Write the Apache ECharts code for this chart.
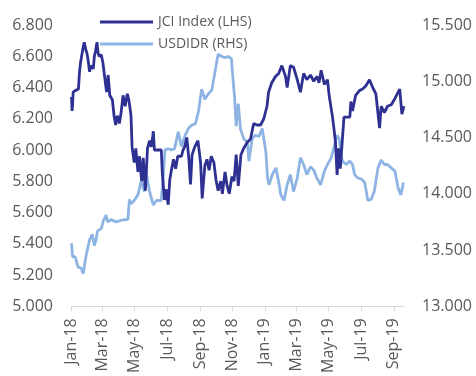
<!DOCTYPE html>
<html>
<head>
<meta charset="utf-8">
<script src="https://cdn.jsdelivr.net/npm/echarts@6/dist/echarts.min.js"></script>
<style>
  html, body { margin: 0; padding: 0; background: #fff; }
  #chart { width: 476px; height: 376px; }
</style>
</head>
<body>
<div id="chart"></div>
<script>
// JCI index, thousands (left axis)
const jciDates = ['2018-01-02','2018-01-03','2018-01-04','2018-01-05','2018-01-09','2018-01-12','2018-01-15','2018-01-17','2018-01-19','2018-01-22','2018-01-24','2018-01-26','2018-01-29','2018-01-31','2018-02-02','2018-02-05','2018-02-07','2018-02-09','2018-02-12','2018-02-14','2018-02-16','2018-02-19','2018-02-21','2018-02-23','2018-02-27','2018-03-02','2018-03-06','2018-03-09','2018-03-12','2018-03-15','2018-03-20','2018-03-23','2018-03-26','2018-03-29','2018-04-02','2018-04-05','2018-04-09','2018-04-13','2018-04-17','2018-04-20','2018-04-24','2018-04-26','2018-04-30','2018-05-03','2018-05-07','2018-05-10','2018-05-14','2018-05-17','2018-05-21','2018-05-25','2018-05-29','2018-06-01','2018-06-04','2018-06-05','2018-06-07','2018-06-12','2018-06-20','2018-06-22','2018-06-26','2018-06-29','2018-07-03','2018-07-06','2018-07-09','2018-07-13','2018-07-17','2018-07-21','2018-07-28','2018-07-31','2018-08-03','2018-08-07','2018-08-11','2018-08-14','2018-08-17','2018-08-22','2018-08-28','2018-09-02','2018-09-05','2018-09-10','2018-09-14','2018-09-18','2018-09-22','2018-09-27','2018-10-01','2018-10-05','2018-10-10','2018-10-13','2018-10-18','2018-10-22','2018-10-26','2018-10-31','2018-11-04','2018-11-08','2018-11-12','2018-11-17','2018-11-22','2018-11-29','2018-12-05','2018-12-11','2018-12-17','2018-12-24','2018-12-30','2019-01-05','2019-01-08','2019-01-14','2019-01-21','2019-01-27','2019-02-02','2019-02-09','2019-02-12','2019-02-18','2019-02-24','2019-03-03','2019-03-09','2019-03-15','2019-03-21','2019-03-28','2019-04-03','2019-04-09','2019-04-13','2019-04-17','2019-04-23','2019-04-29','2019-05-02','2019-05-08','2019-05-11','2019-05-14','2019-05-17','2019-05-20','2019-05-23','2019-05-27','2019-05-30','2019-06-10','2019-06-12','2019-06-15','2019-06-21','2019-06-28','2019-07-04','2019-07-10','2019-07-17','2019-07-23','2019-07-29','2019-08-05','2019-08-08','2019-08-14','2019-08-20','2019-08-27','2019-09-03','2019-09-09','2019-09-12','2019-09-16','2019-09-20'];
const jciValues = [6.34,6.25,6.29,6.37,6.38,6.39,6.39,6.50,6.56,6.62,6.66,6.69,6.64,6.62,6.58,6.50,6.54,6.53,6.52,6.60,6.63,6.69,6.62,6.60,6.61,6.56,6.45,6.37,6.48,6.35,6.32,6.22,6.16,6.22,6.17,6.23,6.35,6.28,6.36,6.32,6.22,6.02,5.92,6.01,5.86,5.96,5.80,5.95,5.74,6.01,6.06,6.02,6.09,6.12,6.00,6.00,6.00,5.85,5.68,5.75,5.65,5.81,5.87,5.94,5.88,5.96,5.96,6.00,6.02,6.08,5.94,5.78,5.97,6.02,6.06,5.92,5.69,5.90,5.94,5.87,5.96,5.92,5.81,5.74,5.80,5.72,5.86,5.77,5.72,5.83,5.80,5.97,5.77,5.97,6.01,6.05,6.07,6.17,6.16,6.16,6.20,6.28,6.37,6.43,6.47,6.49,6.54,6.47,6.40,6.54,6.53,6.45,6.37,6.49,6.45,6.48,6.44,6.47,6.43,6.51,6.42,6.45,6.35,6.22,6.14,6.05,5.84,6.01,5.88,6.07,6.21,6.21,6.31,6.25,6.35,6.38,6.39,6.41,6.45,6.40,6.36,6.14,6.28,6.24,6.28,6.29,6.33,6.37,6.39,6.23,6.28];

// USDIDR, thousands (right axis)
const usdDates = ['2018-01-02','2018-01-04','2018-01-09','2018-01-14','2018-01-20','2018-01-24','2018-01-29','2018-02-05','2018-02-10','2018-02-14','2018-02-17','2018-02-20','2018-02-27','2018-03-03','2018-03-08','2018-03-11','2018-03-17','2018-03-27','2018-04-02','2018-04-11','2018-04-18','2018-04-21','2018-04-24','2018-04-30','2018-05-07','2018-05-13','2018-05-19','2018-05-22','2018-05-29','2018-06-05','2018-06-11','2018-06-20','2018-06-23','2018-06-27','2018-07-03','2018-07-09','2018-07-15','2018-07-22','2018-07-28','2018-08-04','2018-08-10','2018-08-16','2018-08-23','2018-08-29','2018-09-04','2018-09-10','2018-09-17','2018-09-23','2018-09-29','2018-10-05','2018-10-12','2018-10-18','2018-10-24','2018-10-30','2018-11-02','2018-11-05','2018-11-08','2018-11-12','2018-11-16','2018-11-22','2018-11-29','2018-12-02','2018-12-08','2018-12-14','2018-12-21','2018-12-27','2018-12-30','2019-01-03','2019-01-06','2019-01-09','2019-01-15','2019-01-22','2019-01-28','2019-01-31','2019-02-06','2019-02-12','2019-02-18','2019-02-24','2019-03-03','2019-03-09','2019-03-15','2019-03-21','2019-03-28','2019-04-03','2019-04-09','2019-04-16','2019-04-23','2019-04-29','2019-05-06','2019-05-12','2019-05-17','2019-05-21','2019-05-24','2019-05-27','2019-06-03','2019-06-10','2019-06-15','2019-06-19','2019-06-25','2019-07-02','2019-07-08','2019-07-14','2019-07-20','2019-07-26','2019-08-02','2019-08-08','2019-08-14','2019-08-20','2019-08-27','2019-09-03','2019-09-09','2019-09-14','2019-09-19'];
const usdValues = [13.56,13.44,13.44,13.35,13.34,13.29,13.44,13.59,13.64,13.54,13.59,13.67,13.69,13.76,13.81,13.75,13.77,13.75,13.76,13.77,13.77,13.95,13.91,13.94,13.99,14.11,14.02,14.20,14.02,13.90,13.94,13.94,14.11,14.39,14.40,14.39,14.40,14.55,14.42,14.52,14.58,14.61,14.62,14.73,14.93,14.84,14.89,14.92,15.08,15.24,15.22,15.21,15.22,15.20,15.02,14.86,14.60,14.80,14.58,14.49,14.46,14.29,14.49,14.52,14.51,14.58,14.49,14.37,14.14,14.08,14.17,14.23,14.08,13.99,13.94,14.08,14.17,14.02,14.14,14.32,14.26,14.17,14.24,14.21,14.14,14.08,14.20,14.26,14.32,14.43,14.52,14.49,14.37,14.29,14.26,14.29,14.26,14.17,14.14,14.13,14.10,13.94,13.95,14.02,14.23,14.30,14.26,14.26,14.23,14.20,14.05,13.99,14.10];

// x axis ticks every two months
const xTickDates = ['2018-01-01','2018-03-01','2018-05-01','2018-07-01','2018-09-01','2018-11-01','2019-01-01','2019-03-01','2019-05-01','2019-07-01','2019-09-01'];
const xTickLabels = ['Jan-18','Mar-18','May-18','Jul-18','Sep-18','Nov-18','Jan-19','Mar-19','May-19','Jul-19','Sep-19'];

// date string -> day number (UTC), so the x scale is plain days
const toDay = s => Date.UTC(+s.slice(0, 4), +s.slice(5, 7) - 1, +s.slice(8, 10)) / 86400000;
const tickDays = xTickDates.map(toDay);

const chart = echarts.init(document.getElementById('chart'));
const textColor = '#595959';
const font = '"Open Sans", sans-serif';

const option = {
  animation: false,
  grid: { left: 71, right: 72, top: 25, bottom: 66, containLabel: false },
  legend: {
    orient: 'vertical',
    left: 95,
    top: 10,
    icon: 'rect',
    itemWidth: 53,
    itemHeight: 3,
    itemGap: 8,
    data: ['JCI Index (LHS)', 'USDIDR (RHS)'],
    textStyle: { color: textColor, fontSize: 14, fontFamily: font }
  },
  xAxis: {
    type: 'value',
    min: toDay('2018-01-01'),
    max: toDay('2019-09-20'),
    axisLine: { show: true, onZero: false, lineStyle: { color: '#d9d9d9', width: 1 } },
    axisTick: { show: true, length: 5, lineStyle: { color: '#d9d9d9' }, customValues: tickDays },
    splitLine: { show: false },
    axisLabel: {
      customValues: tickDays,
      rotate: 90,
      margin: 12,
      color: textColor,
      fontSize: 16,
      fontFamily: font,
      formatter: v => {
        const i = tickDays.indexOf(v);
        return i >= 0 ? xTickLabels[i] : '';
      }
    }
  },
  yAxis: [
    {
      type: 'value',
      min: 5, max: 6.8, interval: 0.2,
      axisLine: { show: false }, axisTick: { show: false }, splitLine: { show: false },
      axisLabel: { color: textColor, fontSize: 16, fontFamily: font, margin: 18, formatter: v => v.toFixed(3) }
    },
    {
      type: 'value',
      min: 13, max: 15.5, interval: 0.5,
      axisLine: { show: false }, axisTick: { show: false }, splitLine: { show: false },
      axisLabel: { color: textColor, fontSize: 16, fontFamily: font, margin: 18, formatter: v => v.toFixed(3) }
    }
  ],
  series: [
    {
      name: 'USDIDR (RHS)',
      type: 'line',
      yAxisIndex: 1,
      showSymbol: false,
      symbol: 'none',
      color: '#8db4e2',
      lineStyle: { width: 2.8, color: '#8db4e2' },
      data: usdDates.map((d, i) => [toDay(d), usdValues[i]])
    },
    {
      name: 'JCI Index (LHS)',
      type: 'line',
      yAxisIndex: 0,
      showSymbol: false,
      symbol: 'none',
      color: '#2e3192',
      lineStyle: { width: 2.8, color: '#2e3192' },
      data: jciDates.map((d, i) => [toDay(d), jciValues[i]])
    }
  ]
};
chart.setOption(option);
</script>
</body>
</html>
